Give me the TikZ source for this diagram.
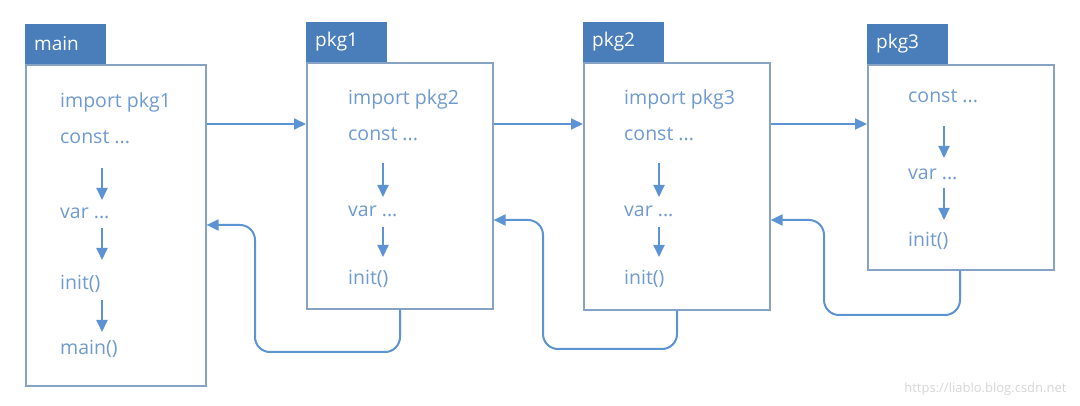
\documentclass[tikz,border=0pt]{standalone}
\usepackage{fontspec}
\setmainfont{Open Sans}
\usepackage{tikz}
\usetikzlibrary{positioning,arrows.meta}

\definecolor{tabblue}{HTML}{4A7EBB}
\definecolor{boxline}{HTML}{86A3C6}
\definecolor{flowblue}{HTML}{5B93D3}
\definecolor{codeblue}{HTML}{6F9AD0}
\definecolor{markgray}{HTML}{D6D6D6}

\tikzset{
  pkgbox/.style={draw=boxline, line width=1.6pt, fill=white, anchor=north west, minimum width=186pt, inner sep=0pt},
  pkgtab/.style={fill=tabblue, text=white, anchor=south west, minimum width=81pt, minimum height=40pt,
                 text width=63pt, inner xsep=9pt, font=\fontsize{19}{20}\selectfont},
  code/.style={anchor=base west, inner sep=0pt, text=codeblue, font=\fontsize{19.5}{20}\selectfont},
  flow/.style={draw=flowblue, line width=2pt, -{Triangle[width=11pt,length=12pt]}},
}

\begin{document}
\begin{tikzpicture}[x=1pt,y=-1pt]
            \useasboundingbox (0,0) rectangle (1080,406);
            \coordinate (fwd) at (0,124);
            % boxes and tabs
            \node[pkgbox, minimum width=180pt, minimum height=321pt] (mainbox) at (25,64) {};
            \node[pkgbox, minimum height=246pt] (p1box) at (306,62) {};
            \node[pkgbox, minimum height=247pt] (p2box) at (583,62) {};
            \node[pkgbox, minimum height=205pt] (p3box) at (867,64) {};
            \node[pkgtab] (maintab) at (mainbox.north west) {main};
            \node[pkgtab] (p1tab) at (p1box.north west) {pkg1};
            \node[pkgtab] (p2tab) at (p2box.north west) {pkg2};
            \node[pkgtab] (p3tab) at (p3box.north west) {pkg3};
            % main
            \node[code] (mimport) at (60,108) {import pkg1};
            \node[code] (mconst) at (60,144) {const ...};
            \node[code] (mvar) at (60,219) {var ...};
            \node[code] (minit) at (60,290) {init()};
            \node[code] (mmain) at (60,355) {main()};
            \draw[flow] ([xshift=42pt,yshift=-24pt]mconst.base west) -- ([xshift=42pt,yshift=19pt]mvar.base west);
            \draw[flow] ([xshift=42pt,yshift=-9pt]mvar.base west) -- ([xshift=42pt,yshift=30pt]minit.base west);
            \draw[flow] ([xshift=42pt,yshift=-10pt]minit.base west) -- ([xshift=42pt,yshift=23pt]mmain.base west);
            % pkg1
            \node[code] (p1import) at (348,105) {import pkg2};
            \node[code] (p1const) at (348,141) {const ...};
            \node[code] (p1var) at (348,217) {var ...};
            \node[code] (p1init) at (348,285) {init()};
            \draw[flow] ([xshift=35pt,yshift=-22pt]p1const.base west) -- ([xshift=35pt,yshift=20pt]p1var.base west);
            \draw[flow] ([xshift=35pt,yshift=-10pt]p1var.base west) -- ([xshift=35pt,yshift=28pt]p1init.base west);
            % pkg2
            \node[code] (p2import) at (624,105) {import pkg3};
            \node[code] (p2const) at (624,141) {const ...};
            \node[code] (p2var) at (624,217) {var ...};
            \node[code] (p2init) at (624,285) {init()};
            \draw[flow] ([xshift=35pt,yshift=-22pt]p2const.base west) -- ([xshift=35pt,yshift=20pt]p2var.base west);
            \draw[flow] ([xshift=35pt,yshift=-10pt]p2var.base west) -- ([xshift=35pt,yshift=28pt]p2init.base west);
            % pkg3
            \node[code] (p3const) at (908,103) {const ...};
            \node[code] (p3var) at (908,180) {var ...};
            \node[code] (p3init) at (908,247) {init()};
            \draw[flow] ([xshift=36pt,yshift=-23pt]p3const.base west) -- ([xshift=36pt,yshift=22pt]p3var.base west);
            \draw[flow] ([xshift=36pt,yshift=-8pt]p3var.base west) -- ([xshift=36pt,yshift=27pt]p3init.base west);
            % import links
            \draw[flow] (mainbox.east |- fwd) -- (p1box.west |- fwd);
            \draw[flow] (p1box.east |- fwd) -- (p2box.west |- fwd);
            \draw[flow] (p2box.east |- fwd) -- (p3box.west |- fwd);
            % return links
            \coordinate (b1) at (255,352); \coordinate (t1) at (255,225);
            \coordinate (b2) at (543,349); \coordinate (t2) at (543,220);
            \coordinate (b3) at (824,315); \coordinate (t3) at (824,220);
            \draw[flow, rounded corners=15pt] ([xshift=94pt]p1box.south west) |- (b1) -- (t1) -- (mainbox.east |- t1);
            \draw[flow, rounded corners=15pt] ([xshift=94pt]p2box.south west) |- (b2) -- (t2) -- (p1box.east |- t2);
            \draw[flow, rounded corners=15pt] ([xshift=93pt]p3box.south west) |- (b3) -- (t3) -- (p2box.east |- t3);
            \node[anchor=base east, text=markgray, font=\fontsize{13}{14}\selectfont] (mark) at (1070,392) {https://liablo.blog.csdn.net};
        \end{tikzpicture}
\end{document}
